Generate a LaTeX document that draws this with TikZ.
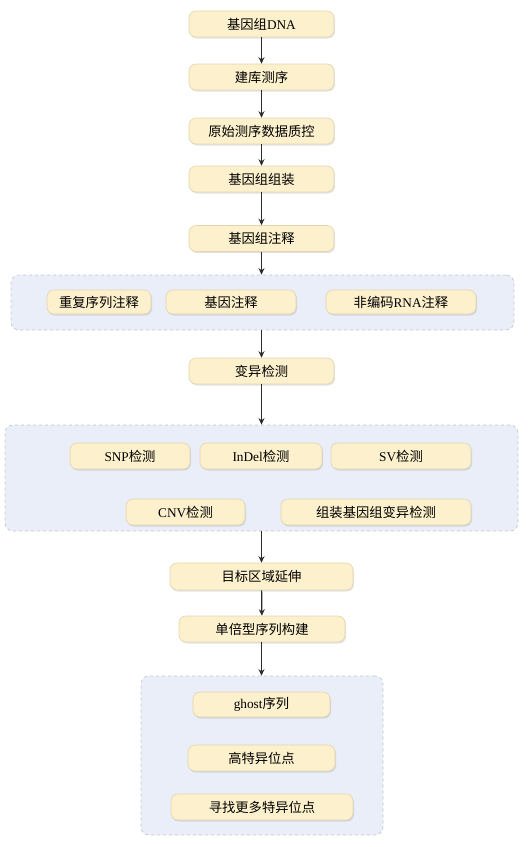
\documentclass[tikz,border=0pt]{standalone}
\usepackage{fontspec}
\setmainfont{Liberation Serif}
\newfontfamily\cjkfont{Noto Sans CJK SC}
\newcommand{\zh}[1]{{\cjkfont #1}}
\usepackage{xcolor}
\usepackage{tikz}
\usetikzlibrary{positioning, arrows.meta, shadows}

\definecolor{boxfill}{HTML}{FDF0CC}
\definecolor{boxline}{HTML}{E3D4AE}
\definecolor{grpfill}{HTML}{E9EEF8}
\definecolor{grpline}{HTML}{C4C6CC}
\definecolor{arrowc}{HTML}{2B2B2B}

\begin{document}
\begin{tikzpicture}[x=1pt,y=-1pt,>={Stealth[length=6.5pt,width=6pt]},
    every node/.style={font=\fontsize{13.3}{15}\selectfont},
    box/.style={draw=boxline,fill=boxfill,rounded corners=7pt,line width=0.6pt,
        minimum height=26pt,inner sep=0pt,
        drop shadow={opacity=0.22,shadow xshift=1pt,shadow yshift=-1.5pt}},
    group/.style={draw=grpline,dashed,fill=grpfill,rounded corners=8pt,line width=0.7pt,inner sep=0pt},
    flow/.style={->,draw=arrowc,line width=1.2pt}]
    \useasboundingbox (0,0) rectangle (528,847);

    % groups behind
    \node[group,minimum width=503pt,minimum height=55pt] (grp1) at (262.5,302.5) {};
    \node[group,minimum width=513pt,minimum height=106pt] (grp2) at (261.5,478) {};
    \node[group,minimum width=242pt,minimum height=159pt] (grp3) at (262,755.5) {};

    % main steps
    \node[box,minimum width=145pt] (dna) at (261.5,24) {\zh{基因组}DNA};
    \node[box,minimum width=145pt] (lib) at (261.5,77) {\zh{建库测序}};
    \node[box,minimum width=145pt] (qc) at (261.5,131) {\zh{原始测序数据质控}};
    \node[box,minimum width=145pt] (asm) at (261.5,179) {\zh{基因组组装}};
    \node[box,minimum width=145pt] (anno) at (261.5,238.5) {\zh{基因组注释}};

    % annotation
    \node[box,minimum width=104pt,minimum height=24pt] (rep) at (99,302) {\zh{重复序列注释}};
    \node[box,minimum width=130pt,minimum height=24pt] (gene) at (231,302) {\zh{基因注释}};
    \node[box,minimum width=150pt,minimum height=24pt] (ncrna) at (401,302) {\zh{非编码}RNA\zh{注释}};

    \node[box,minimum width=145pt] (var) at (261.5,371) {\zh{变异检测}};

    % variants
    \node[box,minimum width=120pt] (snp) at (130,456) {SNP\zh{检测}};
    \node[box,minimum width=122pt] (indel) at (261,456) {InDel\zh{检测}};
    \node[box,minimum width=140pt] (sv) at (401,456) {SV\zh{检测}};
    \node[box,minimum width=119pt] (cnv) at (185.5,512) {CNV\zh{检测}};
    \node[box,minimum width=190pt] (asv) at (376,512) {\zh{组装基因组变异检测}};

    \node[box,minimum width=183pt,minimum height=27pt] (ext) at (261.5,576.5) {\zh{目标区域延伸}};
    \node[box,minimum width=166pt] (hap) at (262,629) {\zh{单倍型序列构建}};

    % ghost
    \node[box,minimum width=137pt,minimum height=25pt] (ghost) at (261.5,704.5) {ghost\zh{序列}};
    \node[box,minimum width=147pt] (hsp) at (261.5,758) {\zh{高特异位点}};
    \node[box,minimum width=182pt] (more) at (262,807) {\zh{寻找更多特异位点}};

    \draw[flow] (dna) -- (lib);
    \draw[flow] (lib) -- (qc);
    \draw[flow] (qc) -- (asm);
    \draw[flow] (asm) -- (anno);
    \draw[flow] (anno) -- (anno.south |- grp1.north);
    \draw[flow] (var.north |- grp1.south) -- (var);
    \draw[flow] (var) -- (var.south |- grp2.north);
    \draw[flow] (ext.north |- grp2.south) -- (ext);
    \draw[flow] (ext) -- (hap);
    \draw[flow] (hap.south -| ext.south) -- (ext.south |- grp3.north);
\end{tikzpicture}
\end{document}
